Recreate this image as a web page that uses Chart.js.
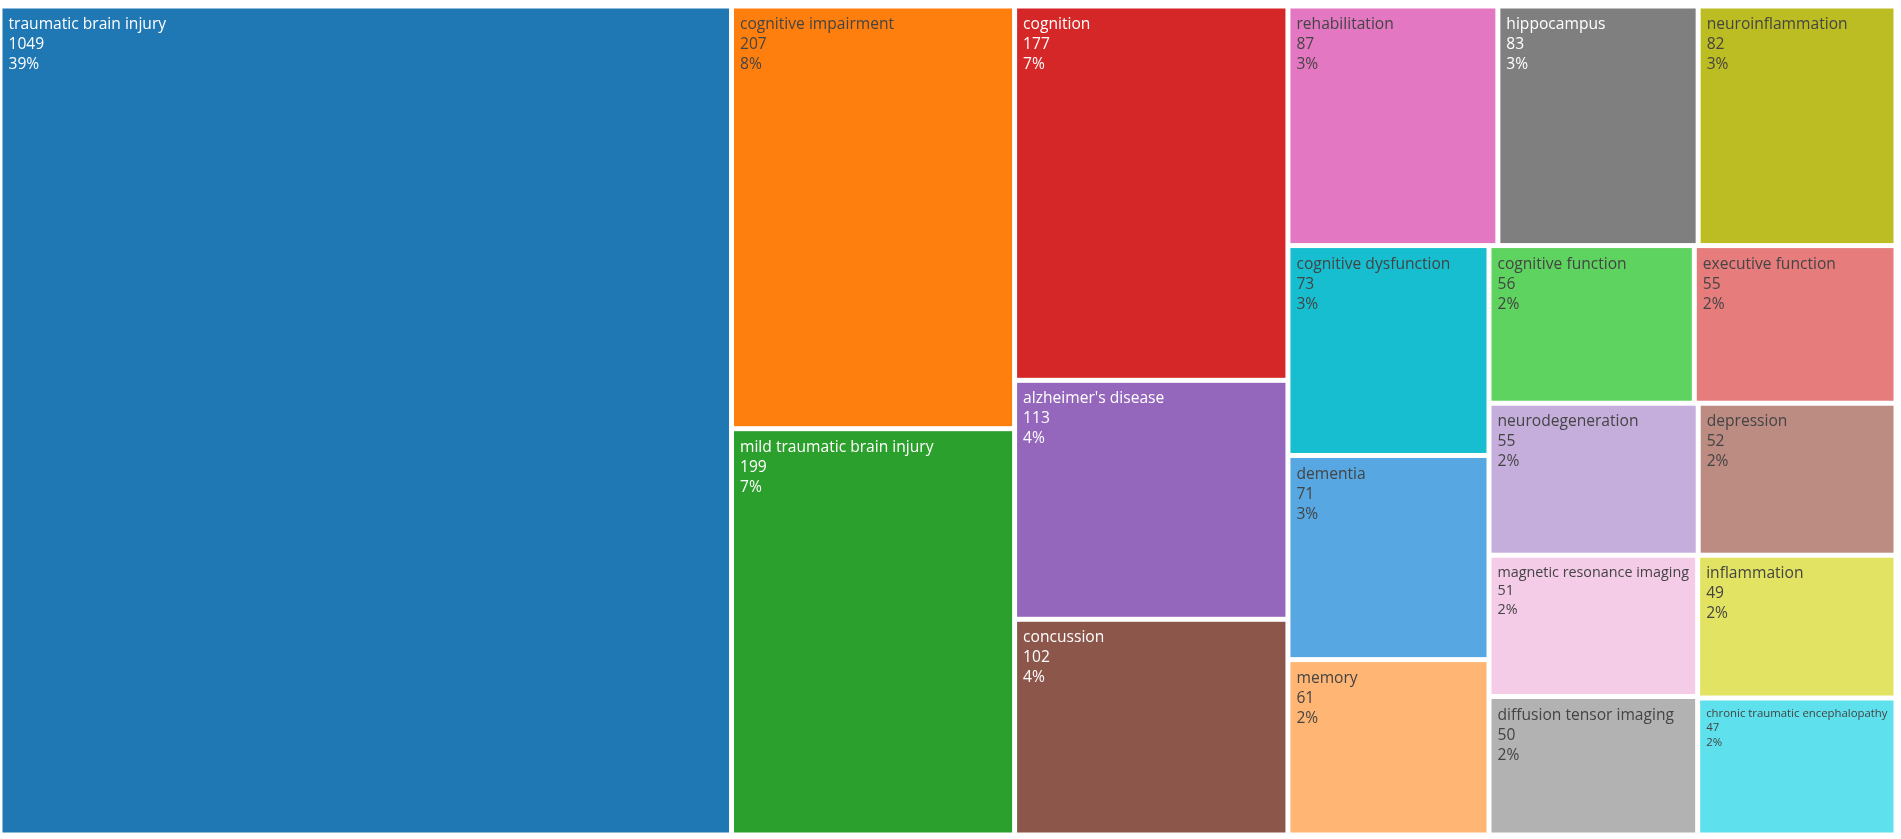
<!DOCTYPE html>
<html><head><meta charset="utf-8">
<script src="https://cdn.jsdelivr.net/npm/chart.js@4.4.0/dist/chart.umd.min.js"></script>
<style>html,body{margin:0;padding:0;background:#fff;overflow:hidden;} #wrap{width:1901px;height:839px;position:relative;}</style>
</head><body><div id="wrap"><canvas id="c"></canvas></div>
<script>
// ---- data ----
const labels = ["traumatic brain injury","cognitive impairment","mild traumatic brain injury","cognition","alzheimer's disease","concussion","rehabilitation","hippocampus","neuroinflammation","cognitive dysfunction","dementia","memory","cognitive function","executive function","neurodegeneration","depression","magnetic resonance imaging","diffusion tensor imaging","inflammation","chronic traumatic encephalopathy"];
const values = [1049,207,199,177,113,102,87,83,82,73,71,61,56,55,55,52,51,50,49,47];
const palette = ["#1f77b4","#ff7f0e","#2ca02c","#d62728","#9467bd","#8c564b","#e377c2","#7f7f7f","#bcbd22","#17becf",
                 "#57a8e2","#ffb574","#5fd35f","#e77c7c","#c6aedc","#bc8b82","#f4cce8","#b2b2b2","#e2e362","#5fe0ed"];

const total = values.reduce((a,b)=>a+b,0);

// d3-style squarify (ratio 1)
function squarify(vals, x0, y0, x1, y1, ratio){
  const out = new Array(vals.length);
  let value = vals.reduce((a,b)=>a+b,0);
  let i0 = 0, i1 = 0; const n = vals.length;
  while (i0 < n){
    const dx = x1 - x0, dy = y1 - y0;
    let sumValue = vals[i1++];
    let minValue = sumValue, maxValue = sumValue;
    const alpha = Math.max(dy/dx, dx/dy) / (value * ratio);
    let beta = sumValue*sumValue*alpha;
    let minRatio = Math.max(maxValue/beta, beta/minValue);
    for (; i1 < n; ++i1){
      const nv = vals[i1];
      sumValue += nv;
      if (nv < minValue) minValue = nv;
      if (nv > maxValue) maxValue = nv;
      beta = sumValue*sumValue*alpha;
      const newRatio = Math.max(maxValue/beta, beta/minValue);
      if (newRatio > minRatio){ sumValue -= nv; break; }
      minRatio = newRatio;
    }
    const dice = dx < dy;
    if (dice){
      const ny = value ? y0 + dy*sumValue/value : y1;
      let cx = x0;
      for (let i=i0;i<i1;i++){ const w = dx*vals[i]/sumValue; out[i]=[cx,y0,cx+w,ny]; cx+=w; }
      y0 = ny;
    } else {
      const nx = value ? x0 + dx*sumValue/value : x1;
      let cy = y0;
      for (let i=i0;i<i1;i++){ const h = dy*vals[i]/sumValue; out[i]=[x0,cy,nx,cy+h]; cy+=h; }
      x0 = nx;
    }
    value -= sumValue; i0 = i1;
  }
  return out;
}

function isLight(hex){
  const r=parseInt(hex.substr(1,2),16), g=parseInt(hex.substr(3,2),16), b=parseInt(hex.substr(5,2),16);
  return (r*299+g*587+b*114)/1000 >= 128;
}

const treemapPlugin = {
  id: 'treemap',
  afterDatasetsDraw(chart){
    const {ctx, chartArea, scales:{x, y}} = chart;
    const A = chartArea.width / chartArea.height;
    const rects = squarify(values, 0, 0, A, 1, 1);
    const inset = 2.5, pad = 6, baseSize = 15.6, lineH = 20/15.6;
    ctx.save();
    rects.forEach((r, i) => {
      const L = x.getPixelForValue(r[0]/A) + inset;
      const R = x.getPixelForValue(r[2]/A) - inset;
      const T = y.getPixelForValue(r[1]) + inset;
      const B = y.getPixelForValue(r[3]) - inset;
      ctx.fillStyle = palette[i];
      ctx.fillRect(L, T, R-L, B-T);
      const lines = [labels[i], String(values[i]), Math.round(values[i]/total*100) + '%'];
      ctx.font = baseSize + 'px "Open Sans"';
      let maxW = Math.max(...lines.map(s => ctx.measureText(s).width));
      let size = baseSize;
      const avail = (R-L) - 2*pad;
      if (maxW > avail) size = baseSize * avail / maxW;
      ctx.save();
      ctx.beginPath(); ctx.rect(L, T, R-L, B-T); ctx.clip();
      ctx.font = size + 'px "Open Sans"';
      ctx.fillStyle = isLight(palette[i]) ? '#444444' : '#ffffff';
      ctx.textBaseline = 'alphabetic';
      ctx.textAlign = 'left';
      const lh = size * lineH;
      const first = T + 5 + size*1.0;
      lines.forEach((s, k) => ctx.fillText(s, L + pad, first + k*lh));
      ctx.restore();
    });
    ctx.restore();
  }
};

new Chart(document.getElementById('c'), {
  type: 'scatter',
  data: { datasets: [{ label: 'keywords', data: [] }] },
  options: {
    responsive: true, maintainAspectRatio: false, animation: false,
    layout: { padding: { left: 0, top: 6, right: 5, bottom: 4 } },
    plugins: { legend: { display: false }, tooltip: { enabled: false } },
    scales: {
      x: { type: 'linear', min: 0, max: 1, display: false },
      y: { type: 'linear', min: 0, max: 1, reverse: true, display: false }
    }
  },
  plugins: [treemapPlugin]
});
</script></body></html>
